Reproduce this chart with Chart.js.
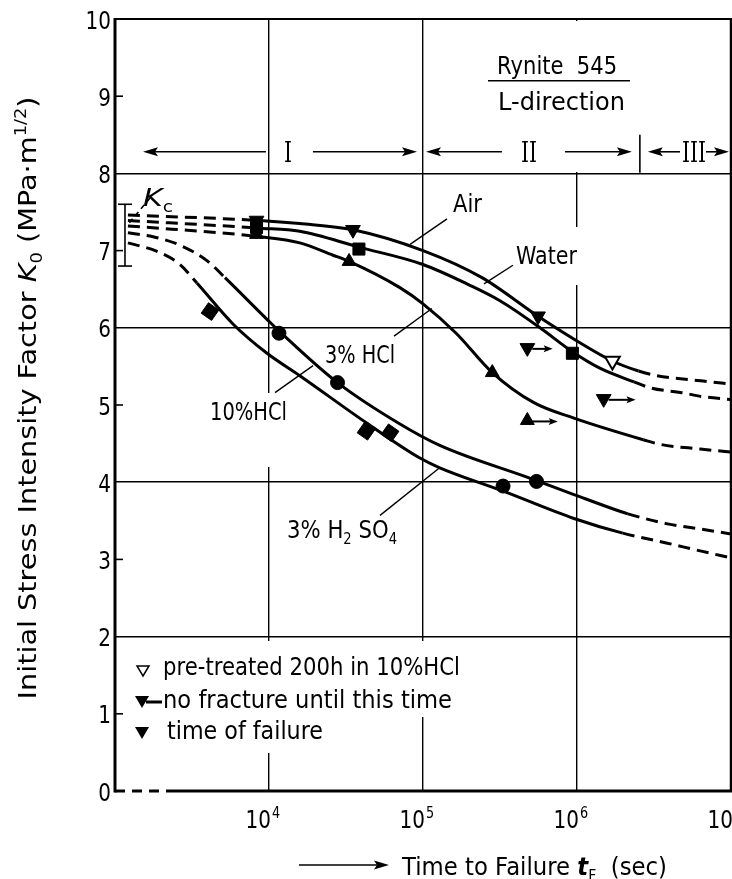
<!DOCTYPE html>
<html><head><meta charset="utf-8">
<script src="https://cdn.jsdelivr.net/npm/chart.js@4.4.1/dist/chart.umd.min.js"></script>
<style>html,body{margin:0;padding:0;background:#fff;overflow:hidden}canvas{display:block}</style>
</head><body>
<canvas id="chart" width="732" height="879" style="width:732px;height:879px"></canvas>
<script>
// ---------------- DATA (time to failure in s, initial K0 in MPa·m^1/2) ----------------
const seriesNames = ['Air', 'Water', '3% HCl', '10%HCl', '3%H2SO4'];

const airT = [1213, 8710, 15850, 35080, 1.0e5, 2.415e5, 5.585e5, 1.0e6, 1.698e6, 2.512e6, 3.311e6, 6.607e6, 1.0e7];
const airK = [7.46, 7.39, 7.35, 7.27, 7.00, 6.65, 6.15, 5.83, 5.57, 5.44, 5.38, 5.31, 5.27];
const airMeasured = [8710, 2.512e6];

const waterT = [1213, 8710, 15850, 38370, 1.0e5, 2.018e5, 3.162e5, 5.754e5, 9.333e5, 1.429e6, 2.344e6, 3.020e6, 4.786e6, 6.457e6, 1.0e7];
const waterK = [7.39, 7.29, 7.25, 7.045, 6.82, 6.55, 6.35, 6.00, 5.69, 5.47, 5.30, 5.22, 5.16, 5.11, 5.07];
const waterMeasured = [8710, 2.344e6];

const hcl3T = [1213, 8710, 15850, 26060, 33110, 70790, 1.0e5, 1.641e5, 2.818e5, 5.248e5, 9.550e5, 2.692e6, 3.467e6, 6.310e6, 1.0e7];
const hcl3K = [7.32, 7.18, 7.10, 6.94, 6.86, 6.52, 6.31, 5.93, 5.42, 5.03, 4.83, 4.55, 4.49, 4.43, 4.39];
const hcl3Measured = [8710, 2.692e6];

const hcl10T = [1213, 1766, 2642, 3954, 5176, 9705, 11610, 27860, 69980, 1.274e5, 4.977e5, 9.550e5, 1.919e6, 2.138e6, 3.864e6, 6.026e6, 1.0e7];
const hcl10K = [7.23, 7.18, 7.07, 6.87, 6.65, 6.11, 5.96, 5.29, 4.76, 4.48, 4.05, 3.84, 3.62, 3.59, 3.46, 3.40, 3.33];
const hcl10Measured = [5176, 2.138e6];

const h2so4T = [1213, 1875, 2642, 3404, 5834, 9705, 15850, 42850, 94190, 1.274e5, 3.258e5, 9.550e5, 1.982e6, 3.864e6, 6.310e6, 1.0e7];
const h2so4K = [7.10, 6.99, 6.82, 6.58, 6.05, 5.67, 5.38, 4.77, 4.32, 4.19, 3.89, 3.53, 3.34, 3.21, 3.11, 3.02];
const h2so4Measured = [3404, 1.982e6];

// measured points (time of failure)
const airFailT = [8300, 35080, 5.585e5];    const airFailK = [7.39, 7.27, 6.15];
const waterFailT = [8300, 38370, 9.333e5];  const waterFailK = [7.30, 7.02, 5.67];
const hcl3FailT = [8300, 33110, 2.818e5];   const hcl3FailK = [7.21, 6.86, 5.42];
const hcl10FailT = [11610, 27860, 3.311e5, 5.458e5]; const hcl10FailK = [5.93, 5.29, 3.95, 4.01];
const h2so4FailT = [4140, 42660, 61090];    const h2so4FailK = [6.21, 4.66, 4.64];
const pretreatT = [1.698e6];                const pretreatK = [5.57];
// run-outs (no fracture until this time)
const airRunoutT = [4.76e5, 1.49e6]; const airRunoutK = [5.74, 5.08]; const airRunoutEnd = [6.95e5, 2.4e6];
const hcl3RunoutT = [4.76e5];        const hcl3RunoutK = [4.80];       const hcl3RunoutEnd = [7.5e5];
// fracture toughness Kc scatter band
const kcT = 1161; const kcRange = [6.8, 7.6];
// regions I / II / III
const regionLabels = ['I', 'II', 'III'];
const regionEdges = [1520, 1.0e5, 2.56e6, 1.0e7];
const regionLabelT = [13270, 4.875e5, 5.75e6];
// ticks
const xTickExps = [4, 5, 6, 7];
const yTickValues = [0, 1, 2, 3, 4, 5, 6, 7, 8, 9, 10];
const legendLabels = ['pre-treated 200h in 10%HCl', 'no fracture until this time', 'time of failure'];

// ---------------- STYLE / LAYOUT ----------------
const FONT = '"DejaVu Sans", "Liberation Sans", Arial, sans-serif';
const SERIF = '"DejaVu Serif", "Liberation Serif", serif';
const DASH = [12, 7];
const pts = (t, k) => t.map((v, i) => ({x: v, y: k[i]}));

function curveDataset(t, k, measured) {
  return {
    type: 'line', data: pts(t, k), borderColor: '#000', borderWidth: 3,
    pointRadius: 0, pointHoverRadius: 0, fill: false, cubicInterpolationMode: 'monotone',
    segment: {borderDash: c => (t[c.p1DataIndex] <= measured[0] || t[c.p0DataIndex] >= measured[1]) ? DASH : undefined}
  };
}
function markerDataset(t, k, style, radius, extra) {
  return Object.assign({
    type: 'line', data: pts(t, k), showLine: false, pointStyle: style, pointRadius: radius,
    pointHoverRadius: radius, pointBackgroundColor: '#000', pointBorderColor: '#000', pointBorderWidth: 1
  }, extra || {});
}

function fontFor(s, size) {
  const sz = (s.sub || s.sup) ? size * 0.62 : size;
  return (s.it ? 'italic ' : '') + (s.b ? 'bold ' : '') + sz + 'px ' + (s.fam || FONT);
}
function drawRich(ctx, segs, x, y, o) {
  o = o || {};
  const size = o.size || 25;
  let W = 0;
  segs.forEach(s => { ctx.font = fontFor(s, size); W += ctx.measureText(s.t).width; });
  const k = o.w ? o.w / W : (o.sx || 0.82);
  ctx.save();
  ctx.translate(x, y);
  if (o.rot) ctx.rotate(o.rot);
  ctx.scale(k, 1);
  let cx = o.align === 'center' ? -W / 2 : (o.align === 'right' ? -W : 0);
  ctx.fillStyle = '#000'; ctx.textAlign = 'left'; ctx.textBaseline = 'alphabetic';
  segs.forEach(s => {
    ctx.font = fontFor(s, size);
    const dy = s.sub ? size * 0.25 : (s.sup ? -size * 0.42 : 0);
    ctx.fillText(s.t, cx, dy);
    cx += ctx.measureText(s.t).width;
  });
  ctx.restore();
  return W * k;
}
function seg(ctx, x0, y0, x1, y1) { ctx.beginPath(); ctx.moveTo(x0, y0); ctx.lineTo(x1, y1); ctx.stroke(); }
function head(ctx, x, y, dir, len, hw) {
  ctx.beginPath(); ctx.moveTo(x, y); ctx.lineTo(x - dir * len, y - hw);
  ctx.lineTo(x - dir * len * 0.8, y); ctx.lineTo(x - dir * len, y + hw); ctx.closePath(); ctx.fill();
}
function tri(ctx, cx, cy, w, h, down, filled) {
  ctx.beginPath();
  if (down) { ctx.moveTo(cx - w / 2, cy - h / 2); ctx.lineTo(cx + w / 2, cy - h / 2); ctx.lineTo(cx, cy + h / 2); }
  else { ctx.moveTo(cx - w / 2, cy + h / 2); ctx.lineTo(cx + w / 2, cy + h / 2); ctx.lineTo(cx, cy - h / 2); }
  ctx.closePath();
  if (filled) ctx.fill(); else ctx.stroke();
}

// annotation anchors (log10 time, K)
const labelAnchors = [
  {segs: [{t: 'Air'}], lx: 5.195, k: 7.50, w: 29},
  {segs: [{t: 'Water'}], lx: 5.604, k: 6.82, w: 61},
  {segs: [{t: '3% HCl'}], lx: 4.364, k: 5.545, w: 70},
  {segs: [{t: '10%HCl'}], lx: 3.617, k: 4.80, w: 77},
  {segs: [{t: '3% H'}, {t: '2', sub: true}, {t: ' SO'}, {t: '4', sub: true}], lx: 4.117, k: 3.28, w: 110}
];
const leaders = [
  [[5.156, 7.41], [4.916, 7.08]],
  [[5.584, 6.81], [5.396, 6.57]],
  [[4.812, 5.893], [5.058, 6.25]],
  [[4.039, 5.16], [4.286, 5.51]],
  [[4.721, 3.57], [5.110, 4.19]]
];

const deco = {
  id: 'deco',
  beforeDatasetsDraw(chart) {
    const ctx = chart.ctx;
    ctx.save(); ctx.fillStyle = '#fff';
    // breaks in the grid behind texts
    ctx.fillRect(135, 641, 332, 41);
    ctx.fillRect(135, 682, 325, 35);
    ctx.fillRect(135, 717, 195, 36);
    ctx.fillRect(205, 393, 88, 74);
    ctx.fillRect(510, 227, 72, 58);
    ctx.fillRect(565, 21, 20, 151);
    ctx.restore();
  },
  afterDatasetsDraw(chart) {
    const ctx = chart.ctx, xs = chart.scales.x, ys = chart.scales.y, a = chart.chartArea;
    const X = t => xs.getPixelForValue(t), Y = k => ys.getPixelForValue(k);
    const XL = lx => X(Math.pow(10, lx));
    ctx.save();
    ctx.strokeStyle = '#000'; ctx.fillStyle = '#000'; ctx.lineCap = 'butt';

    // run-out arrows
    ctx.lineWidth = 2;
    [[airRunoutT, airRunoutK, airRunoutEnd], [hcl3RunoutT, hcl3RunoutK, hcl3RunoutEnd]].forEach(([t, k, e]) => {
      t.forEach((v, i) => {
        const y = Y(k[i]) + 1, x0 = X(v) + 5, x1 = X(e[i]);
        seg(ctx, x0, y, x1 - 6, y); head(ctx, x1, y, 1, 9, 3.5);
      });
    });

    // Kc band
    ctx.lineWidth = 1.6;
    const kx = X(kcT);
    seg(ctx, kx, Y(kcRange[0]), kx, Y(kcRange[1]));
    seg(ctx, kx - 7, Y(kcRange[0]), kx + 7, Y(kcRange[0]));
    seg(ctx, kx - 7, Y(kcRange[1]), kx + 7, Y(kcRange[1]));
    ctx.setLineDash([5, 4]);
    seg(ctx, XL(3.227), Y(7.68), XL(3.084), Y(7.34));
    ctx.setLineDash([]);
    drawRich(ctx, [{t: 'K', it: true}, {t: 'c', sub: true}], XL(3.182), Y(7.58), {w: 30});

    // curve labels and leaders
    ctx.lineWidth = 1.4;
    leaders.forEach(([p, q]) => seg(ctx, XL(p[0]), Y(p[1]), XL(q[0]), Y(q[1])));
    labelAnchors.forEach(l => drawRich(ctx, l.segs, XL(l.lx), Y(l.k), {w: l.w}));

    // title box
    drawRich(ctx, [{t: 'Rynite  545'}], XL(5.481), Y(9.29), {w: 120});
    ctx.lineWidth = 1.6;
    seg(ctx, XL(5.422), Y(9.20), XL(6.344), Y(9.20));
    drawRich(ctx, [{t: 'L-direction'}], XL(5.487), Y(8.82), {w: 127});

    // regions
    const ry = Y(8.28);
    const startGap = [0, 3, 8], endGap = [6, 8, 2];
    const labelGap = [[22, 25], [27, 36], [14, 12]];
    ctx.lineWidth = 1.6;
    regionLabels.forEach((lab, i) => {
      const x0 = X(regionEdges[i]) + startGap[i], x1 = X(regionEdges[i + 1]) - endGap[i];
      const m = X(regionLabelT[i]);
      seg(ctx, x0 + 8, ry, m - labelGap[i][0], ry);
      seg(ctx, m + labelGap[i][1], ry, x1 - 8, ry);
      head(ctx, x0, ry, -1, 15, 4.5);
      head(ctx, x1, ry, 1, 15, 4.5);
      drawRich(ctx, [{t: lab, fam: SERIF}], m, ry + 10, {align: 'center', sx: 0.75, size: 27});
    });
    ctx.lineWidth = 1.6;
    seg(ctx, X(regionEdges[2]), Y(8.50), X(regionEdges[2]), Y(8.01));

    // legend
    ctx.lineWidth = 1.5;
    tri(ctx, 143, 671, 12, 10, true, false);
    tri(ctx, 142, 702, 14, 12, true, true);
    ctx.lineWidth = 3; seg(ctx, 146, 702, 162, 702);
    tri(ctx, 142, 733, 14, 12, true, true);
    drawRich(ctx, [{t: legendLabels[0]}], 163, 675, {w: 297});
    drawRich(ctx, [{t: legendLabels[1]}], 163, 708, {w: 289});
    drawRich(ctx, [{t: legendLabels[2]}], 167, 739, {w: 156});

    // inner ticks at odd values
    ctx.lineWidth = 1.6;
    yTickValues.forEach(v => { if (v % 2) seg(ctx, a.left, Y(v), a.left + 8, Y(v)); });

    // frame
    ctx.lineWidth = 3; seg(ctx, a.left, a.top - 1, a.left, a.bottom + 1.5);
    ctx.lineWidth = 2; seg(ctx, a.left, a.top, a.right, a.top);
    ctx.lineWidth = 2.5; seg(ctx, a.right, a.top - 1, a.right, a.bottom);
    ctx.lineWidth = 3;
    ctx.setLineDash([10, 7]); seg(ctx, a.left, a.bottom, a.left + 52, a.bottom);
    ctx.setLineDash([]); seg(ctx, a.left + 52, a.bottom, a.right + 1, a.bottom);

    // tick labels
    yTickValues.forEach(v => drawRich(ctx, [{t: String(v)}], a.left - 4, Y(v) + 9.5, {align: 'right', sx: 0.8}));
    xTickExps.forEach(e => {
      const gx = X(Math.pow(10, e));
      drawRich(ctx, [{t: '10'}], gx + 2, 828, {align: 'right', sx: 0.8});
      drawRich(ctx, [{t: String(e)}], gx + 3, 818, {sx: 0.8, size: 16});
    });

    // axis titles
    drawRich(ctx, [{t: 'Initial Stress Intensity Factor '}, {t: 'K', it: true}, {t: '0', sub: true},
      {t: ' (MPa·m'}, {t: '1/2', sup: true}, {t: ')'}], 36, 398, {rot: -Math.PI / 2, align: 'center', w: 603});
    ctx.lineWidth = 1.6;
    seg(ctx, 299, 865, 378, 865); head(ctx, 389, 865, 1, 15, 4.5);
    drawRich(ctx, [{t: 'Time to Failure '}, {t: 't', it: true, b: true}, {t: 'F', sub: true}, {t: '  (sec)'}], 402, 875, {w: 265});
    ctx.restore();
  }
};

new Chart(document.getElementById('chart'), {
  data: {
    datasets: [
      markerDataset(pretreatT, pretreatK, 'triangle', 8.5, {pointRotation: 180, pointBackgroundColor: '#fff', pointBorderWidth: 2}),
      markerDataset(airRunoutT, airRunoutK, 'triangle', 8.5, {pointRotation: 180}),
      markerDataset(hcl3RunoutT, hcl3RunoutK, 'triangle', 8),
      markerDataset(airFailT, airFailK, 'triangle', 8.5, {pointRotation: 180}),
      markerDataset(waterFailT, waterFailK, 'rect', 8.5),
      markerDataset(hcl3FailT, hcl3FailK, 'triangle', 8),
      markerDataset(hcl10FailT, hcl10FailK, 'circle', 7),
      markerDataset(h2so4FailT, h2so4FailK, 'rect', 9, {pointRotation: 35}),
      Object.assign(curveDataset(airT, airK, airMeasured), {label: seriesNames[0]}),
      Object.assign(curveDataset(waterT, waterK, waterMeasured), {label: seriesNames[1]}),
      Object.assign(curveDataset(hcl3T, hcl3K, hcl3Measured), {label: seriesNames[2]}),
      Object.assign(curveDataset(hcl10T, hcl10K, hcl10Measured), {label: seriesNames[3]}),
      Object.assign(curveDataset(h2so4T, h2so4K, h2so4Measured), {label: seriesNames[4]})
    ]
  },
  options: {
    responsive: false, animation: false, devicePixelRatio: 1,
    layout: {padding: {top: 19, right: 1, left: 0, bottom: 0}, autoPadding: false},
    plugins: {legend: {display: false}, tooltip: {enabled: false}},
    events: [],
    scales: {
      x: {
        type: 'logarithmic', min: 1e3, max: 1e7,
        afterBuildTicks: s => { s.ticks = xTickExps.filter(e => e < 7).map(e => ({value: Math.pow(10, e)})); },
        afterFit: s => { s.height = 88; s.paddingLeft = 0; s.paddingRight = 0; },
        ticks: {display: false},
        grid: {color: '#000', lineWidth: 1.4, drawTicks: false},
        border: {display: false}
      },
      y: {
        type: 'linear', min: 0, max: 10,
        afterBuildTicks: s => { s.ticks = yTickValues.map(v => ({value: v})); },
        afterFit: s => { s.width = 115; s.paddingTop = 0; s.paddingBottom = 0; },
        ticks: {display: false},
        grid: {color: c => (c.tick && c.tick.value % 2 === 0 && c.tick.value > 0 && c.tick.value < 10) ? '#000' : 'rgba(0,0,0,0)', lineWidth: 1.5, drawTicks: false},
        border: {display: false}
      }
    }
  },
  plugins: [deco]
});
</script>
</body></html>
